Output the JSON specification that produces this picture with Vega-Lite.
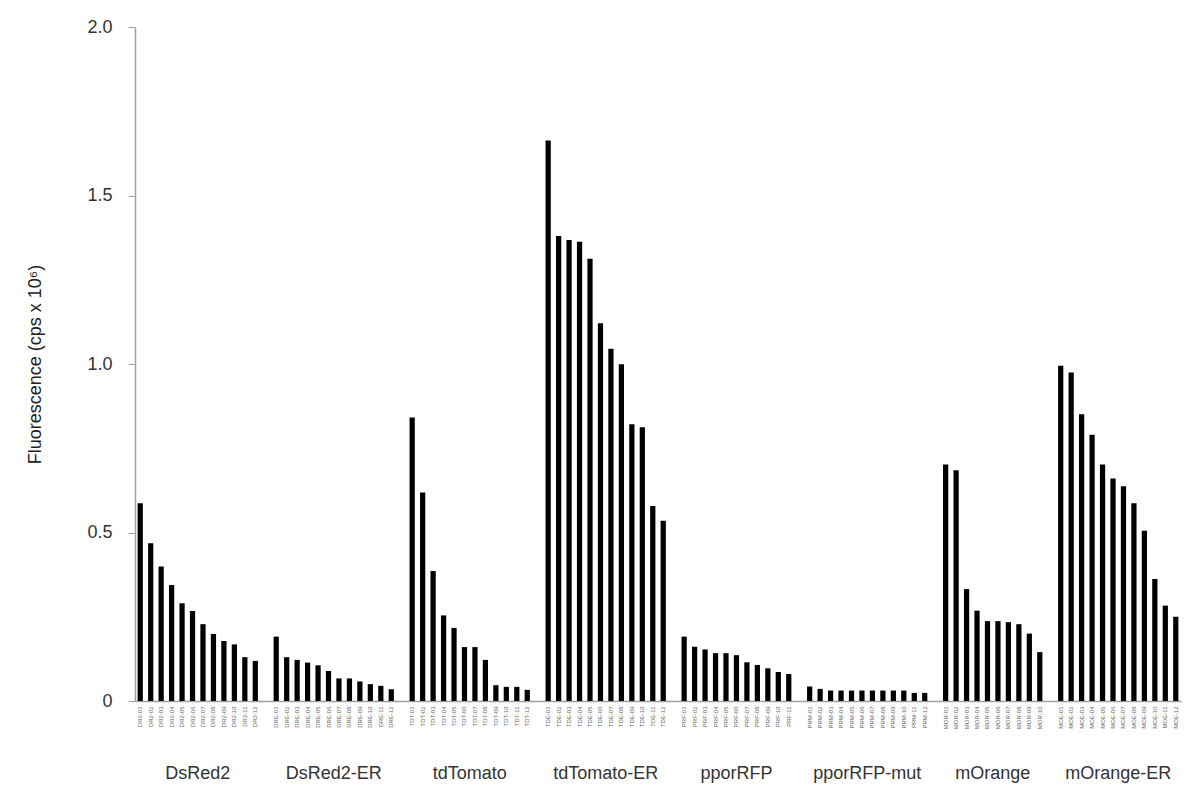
{
  "$schema": "https://vega.github.io/schema/vega-lite/v6.json",
  "width": 1046,
  "height": 674,
  "autosize": "none",
  "padding": {"left": 135, "top": 27, "right": 19, "bottom": 103},
  "background": "white",
  "config": {"view": {"stroke": null}, "font": "Liberation Sans"},
  "datasets": {
    "bars": [
      {"group": "DsRed2", "clone": "DR2-01", "value": 0.587},
      {"group": "DsRed2", "clone": "DR2-02", "value": 0.468},
      {"group": "DsRed2", "clone": "DR2-03", "value": 0.399},
      {"group": "DsRed2", "clone": "DR2-04", "value": 0.344},
      {"group": "DsRed2", "clone": "DR2-05", "value": 0.290},
      {"group": "DsRed2", "clone": "DR2-06", "value": 0.267},
      {"group": "DsRed2", "clone": "DR2-07", "value": 0.228},
      {"group": "DsRed2", "clone": "DR2-08", "value": 0.199},
      {"group": "DsRed2", "clone": "DR2-09", "value": 0.178},
      {"group": "DsRed2", "clone": "DR2-10", "value": 0.168},
      {"group": "DsRed2", "clone": "DR2-11", "value": 0.130},
      {"group": "DsRed2", "clone": "DR2-12", "value": 0.119},
      {"group": "DsRed2-ER", "clone": "DRE-01", "value": 0.191},
      {"group": "DsRed2-ER", "clone": "DRE-02", "value": 0.130},
      {"group": "DsRed2-ER", "clone": "DRE-03", "value": 0.122},
      {"group": "DsRed2-ER", "clone": "DRE-04", "value": 0.114},
      {"group": "DsRed2-ER", "clone": "DRE-05", "value": 0.106},
      {"group": "DsRed2-ER", "clone": "DRE-06", "value": 0.089},
      {"group": "DsRed2-ER", "clone": "DRE-07", "value": 0.067},
      {"group": "DsRed2-ER", "clone": "DRE-08", "value": 0.067},
      {"group": "DsRed2-ER", "clone": "DRE-09", "value": 0.058},
      {"group": "DsRed2-ER", "clone": "DRE-10", "value": 0.050},
      {"group": "DsRed2-ER", "clone": "DRE-11", "value": 0.045},
      {"group": "DsRed2-ER", "clone": "DRE-12", "value": 0.035},
      {"group": "tdTomato", "clone": "TDT-01", "value": 0.841},
      {"group": "tdTomato", "clone": "TDT-02", "value": 0.619},
      {"group": "tdTomato", "clone": "TDT-03", "value": 0.386},
      {"group": "tdTomato", "clone": "TDT-04", "value": 0.254},
      {"group": "tdTomato", "clone": "TDT-05", "value": 0.217},
      {"group": "tdTomato", "clone": "TDT-06", "value": 0.160},
      {"group": "tdTomato", "clone": "TDT-07", "value": 0.160},
      {"group": "tdTomato", "clone": "TDT-08", "value": 0.122},
      {"group": "tdTomato", "clone": "TDT-09", "value": 0.047},
      {"group": "tdTomato", "clone": "TDT-10", "value": 0.042},
      {"group": "tdTomato", "clone": "TDT-11", "value": 0.042},
      {"group": "tdTomato", "clone": "TDT-12", "value": 0.033},
      {"group": "tdTomato-ER", "clone": "TDE-01", "value": 1.663},
      {"group": "tdTomato-ER", "clone": "TDE-02", "value": 1.380},
      {"group": "tdTomato-ER", "clone": "TDE-03", "value": 1.368},
      {"group": "tdTomato-ER", "clone": "TDE-04", "value": 1.363},
      {"group": "tdTomato-ER", "clone": "TDE-05", "value": 1.312},
      {"group": "tdTomato-ER", "clone": "TDE-06", "value": 1.121},
      {"group": "tdTomato-ER", "clone": "TDE-07", "value": 1.045},
      {"group": "tdTomato-ER", "clone": "TDE-08", "value": 0.999},
      {"group": "tdTomato-ER", "clone": "TDE-09", "value": 0.821},
      {"group": "tdTomato-ER", "clone": "TDE-10", "value": 0.812},
      {"group": "tdTomato-ER", "clone": "TDE-11", "value": 0.579},
      {"group": "tdTomato-ER", "clone": "TDE-12", "value": 0.535},
      {"group": "pporRFP", "clone": "PRF-01", "value": 0.191},
      {"group": "pporRFP", "clone": "PRF-02", "value": 0.161},
      {"group": "pporRFP", "clone": "PRF-03", "value": 0.153},
      {"group": "pporRFP", "clone": "PRF-04", "value": 0.142},
      {"group": "pporRFP", "clone": "PRF-05", "value": 0.142},
      {"group": "pporRFP", "clone": "PRF-06", "value": 0.136},
      {"group": "pporRFP", "clone": "PRF-07", "value": 0.115},
      {"group": "pporRFP", "clone": "PRF-08", "value": 0.107},
      {"group": "pporRFP", "clone": "PRF-09", "value": 0.097},
      {"group": "pporRFP", "clone": "PRF-10", "value": 0.086},
      {"group": "pporRFP", "clone": "PRF-11", "value": 0.080},
      {"group": "pporRFP-mut", "clone": "PRM-01", "value": 0.043},
      {"group": "pporRFP-mut", "clone": "PRM-02", "value": 0.036},
      {"group": "pporRFP-mut", "clone": "PRM-03", "value": 0.031},
      {"group": "pporRFP-mut", "clone": "PRM-04", "value": 0.031},
      {"group": "pporRFP-mut", "clone": "PRM-05", "value": 0.031},
      {"group": "pporRFP-mut", "clone": "PRM-06", "value": 0.031},
      {"group": "pporRFP-mut", "clone": "PRM-07", "value": 0.031},
      {"group": "pporRFP-mut", "clone": "PRM-08", "value": 0.031},
      {"group": "pporRFP-mut", "clone": "PRM-09", "value": 0.031},
      {"group": "pporRFP-mut", "clone": "PRM-10", "value": 0.031},
      {"group": "pporRFP-mut", "clone": "PRM-11", "value": 0.024},
      {"group": "pporRFP-mut", "clone": "PRM-12", "value": 0.024},
      {"group": "mOrange", "clone": "MOR-01", "value": 0.702},
      {"group": "mOrange", "clone": "MOR-02", "value": 0.685},
      {"group": "mOrange", "clone": "MOR-03", "value": 0.332},
      {"group": "mOrange", "clone": "MOR-04", "value": 0.268},
      {"group": "mOrange", "clone": "MOR-05", "value": 0.237},
      {"group": "mOrange", "clone": "MOR-06", "value": 0.237},
      {"group": "mOrange", "clone": "MOR-07", "value": 0.234},
      {"group": "mOrange", "clone": "MOR-08", "value": 0.228},
      {"group": "mOrange", "clone": "MOR-09", "value": 0.200},
      {"group": "mOrange", "clone": "MOR-10", "value": 0.145},
      {"group": "mOrange-ER", "clone": "MOE-01", "value": 0.995},
      {"group": "mOrange-ER", "clone": "MOE-02", "value": 0.975},
      {"group": "mOrange-ER", "clone": "MOE-03", "value": 0.851},
      {"group": "mOrange-ER", "clone": "MOE-04", "value": 0.790},
      {"group": "mOrange-ER", "clone": "MOE-05", "value": 0.702},
      {"group": "mOrange-ER", "clone": "MOE-06", "value": 0.660},
      {"group": "mOrange-ER", "clone": "MOE-07", "value": 0.637},
      {"group": "mOrange-ER", "clone": "MOE-08", "value": 0.587},
      {"group": "mOrange-ER", "clone": "MOE-09", "value": 0.505},
      {"group": "mOrange-ER", "clone": "MOE-10", "value": 0.362},
      {"group": "mOrange-ER", "clone": "MOE-11", "value": 0.283},
      {"group": "mOrange-ER", "clone": "MOE-12", "value": 0.250}
    ],
    "groupsEven": [
      {"group": "DsRed2", "anchor": "DR2-06"},
      {"group": "DsRed2-ER", "anchor": "DRE-06"},
      {"group": "tdTomato", "anchor": "TDT-06"},
      {"group": "tdTomato-ER", "anchor": "TDE-06"},
      {"group": "pporRFP-mut", "anchor": "PRM-06"},
      {"group": "mOrange", "anchor": "MOR-05"},
      {"group": "mOrange-ER", "anchor": "MOE-06"}
    ],
    "groupsOdd": [
      {"group": "pporRFP", "anchor": "PRF-06"}
    ]
  },
  "layer": [
    {
      "data": {"name": "bars"},
      "mark": {"type": "bar", "color": "#000000"},
      "encoding": {
        "x": {
          "field": "clone",
          "type": "nominal",
          "sort": null,
          "scale": {
            "domain": [
              "DR2-01","DR2-02","DR2-03","DR2-04","DR2-05","DR2-06","DR2-07","DR2-08","DR2-09","DR2-10","DR2-11","DR2-12","gap1",
              "DRE-01","DRE-02","DRE-03","DRE-04","DRE-05","DRE-06","DRE-07","DRE-08","DRE-09","DRE-10","DRE-11","DRE-12","gap2",
              "TDT-01","TDT-02","TDT-03","TDT-04","TDT-05","TDT-06","TDT-07","TDT-08","TDT-09","TDT-10","TDT-11","TDT-12","gap3",
              "TDE-01","TDE-02","TDE-03","TDE-04","TDE-05","TDE-06","TDE-07","TDE-08","TDE-09","TDE-10","TDE-11","TDE-12","gap4",
              "PRF-01","PRF-02","PRF-03","PRF-04","PRF-05","PRF-06","PRF-07","PRF-08","PRF-09","PRF-10","PRF-11","gap5",
              "PRM-01","PRM-02","PRM-03","PRM-04","PRM-05","PRM-06","PRM-07","PRM-08","PRM-09","PRM-10","PRM-11","PRM-12","gap6",
              "MOR-01","MOR-02","MOR-03","MOR-04","MOR-05","MOR-06","MOR-07","MOR-08","MOR-09","MOR-10","gap7",
              "MOE-01","MOE-02","MOE-03","MOE-04","MOE-05","MOE-06","MOE-07","MOE-08","MOE-09","MOE-10","MOE-11","MOE-12"
            ],
            "paddingInner": 0.5,
            "paddingOuter": 0.25
          },
          "axis": {
            "title": null,
            "ticks": false,
            "domainColor": "#a0a0a0",
            "domainWidth": 1.5,
            "labelAngle": 270,
            "labelFontSize": 6,
            "labelColor": "#666666",
            "labelPadding": 5,
            "labelOverlap": false,
            "labelExpr": "indexof(datum.label, 'gap') == 0 ? '' : datum.label"
          }
        },
        "y": {
          "field": "value",
          "type": "quantitative",
          "scale": {"domain": [0, 2], "nice": false},
          "axis": {
            "title": "Fluorescence (cps x 10⁶)",
            "titleFontSize": 18,
            "titleFontWeight": "normal",
            "titleColor": "#222222",
            "titlePadding": 42,
            "values": [0, 0.5, 1, 1.5, 2],
            "labelExpr": "datum.value == 0 ? '0' : format(datum.value, '.1f')",
            "labelFontSize": 18,
            "labelColor": "#333333",
            "labelPadding": 16,
            "tickSize": 7,
            "tickColor": "#a0a0a0",
            "domainColor": "#a0a0a0",
            "domainWidth": 1.5,
            "grid": false
          }
        }
      }
    },
    {
      "data": {"name": "groupsEven"},
      "mark": {"type": "text", "dx": 5.23, "dy": 73, "fontSize": 18, "color": "#333333", "align": "center", "baseline": "middle"},
      "encoding": {
        "x": {"field": "anchor", "type": "nominal"},
        "y": {"datum": 0, "type": "quantitative"},
        "text": {"field": "group"}
      }
    },
    {
      "data": {"name": "groupsOdd"},
      "mark": {"type": "text", "dy": 73, "fontSize": 18, "color": "#333333", "align": "center", "baseline": "middle"},
      "encoding": {
        "x": {"field": "anchor", "type": "nominal"},
        "y": {"datum": 0, "type": "quantitative"},
        "text": {"field": "group"}
      }
    }
  ]
}
